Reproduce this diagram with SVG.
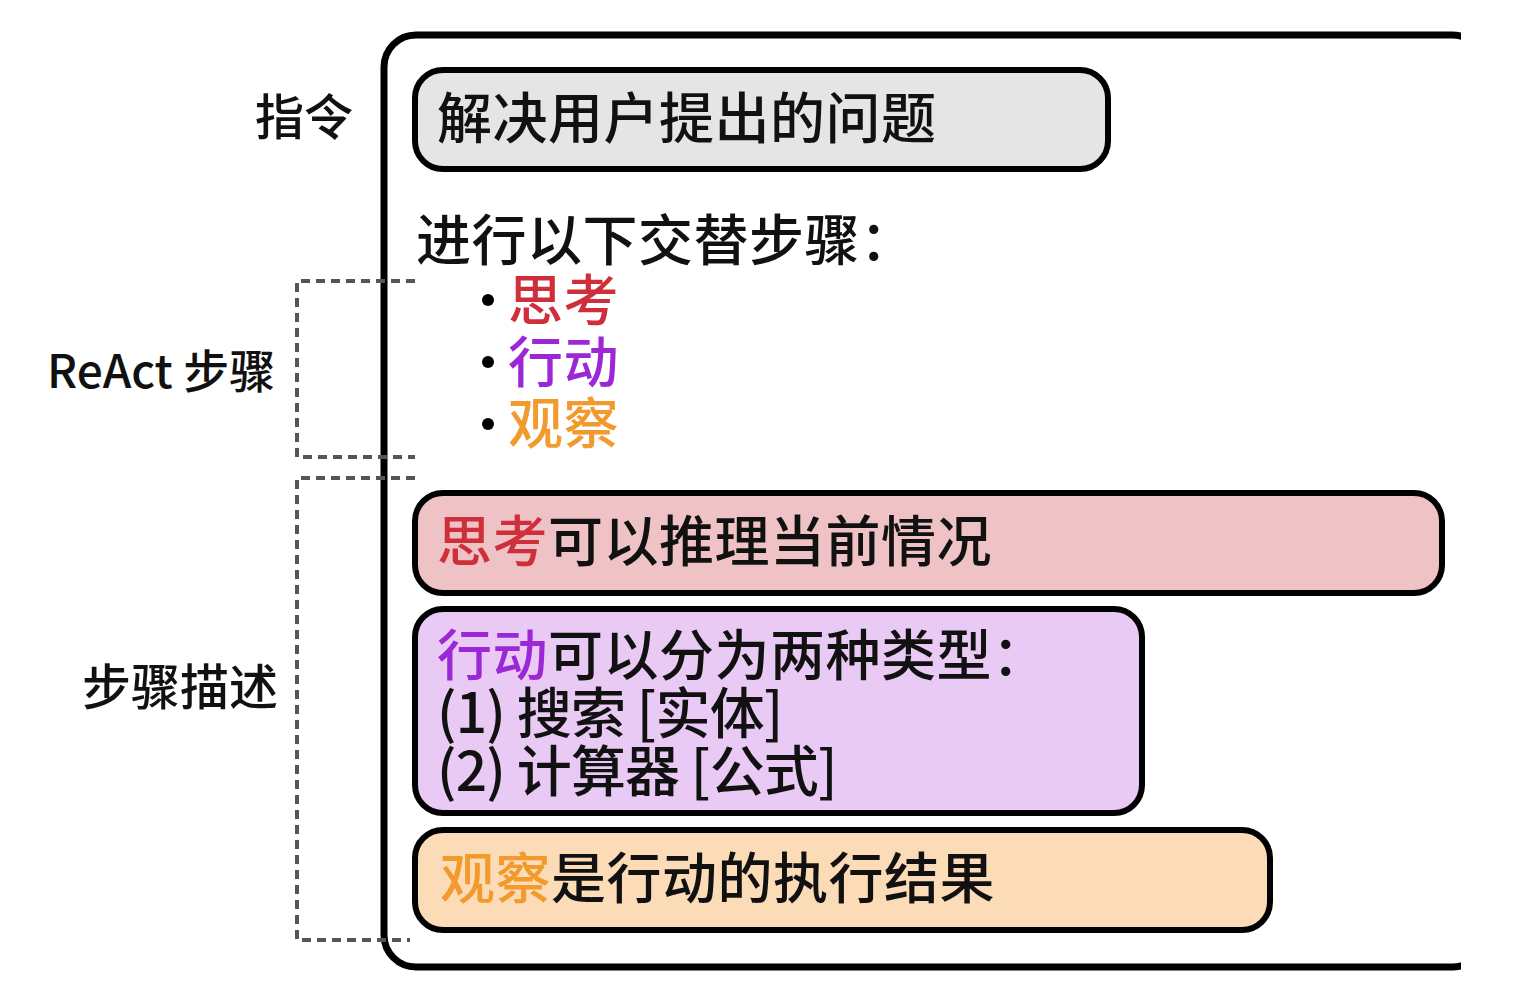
<svg xmlns="http://www.w3.org/2000/svg" width="1524" height="996" viewBox="0 0 1524 996">
<style>
text{font-family:"Noto Sans CJK SC","Noto Sans",sans-serif;fill:#111;font-weight:500;}
.m{font-size:55px;letter-spacing:0.5px;}
.t{letter-spacing:-0.8px;}
.l{font-size:49px;}
.box{stroke:#000;stroke-width:6;}
.dash{fill:none;stroke:#555;stroke-width:4;stroke-dasharray:9 6;}
.red{fill:#cf2f3a;}
.pur{fill:#9b27d6;}
.org{fill:#f29a2e;}
</style>
<defs><clipPath id="c"><rect x="0" y="0" width="1461" height="996"/></clipPath></defs>
<rect width="1524" height="996" fill="#fff"/>
<g id="frame" clip-path="url(#c)">
<rect x="384" y="35" width="1100" height="932" rx="32" fill="none" stroke="#000" stroke-width="7"/>
</g>
<g id="connectors">
<polyline class="dash" points="415,281 297,281 297,457 415,457"/>
<polyline class="dash" points="415,478 297,478 297,940 410,940"/>
</g>
<g id="labels">
<text class="l" x="255" y="135">指令</text>
<text class="l" x="47" y="388" style="font-size:46px">ReAct 步骤</text>
<text class="l" x="82" y="705">步骤描述</text>
</g>
<g id="instruction">
<rect class="box" x="415" y="70" width="693" height="99" rx="28" fill="#e5e5e5"/>
<text class="m" x="437" y="138">解决用户提出的问题</text>
</g>
<g id="steps">
<text class="m" x="416" y="260">进行以下交替步骤：</text>
<circle cx="488" cy="300" r="6" fill="#000"/>
<circle cx="488" cy="362" r="6" fill="#000"/>
<circle cx="488" cy="424" r="6" fill="#000"/>
<text class="m red" x="508" y="320">思考</text>
<text class="m pur" x="508" y="382">行动</text>
<text class="m org" x="508" y="443">观察</text>
</g>
<g id="think">
<rect class="box" x="415" y="493" width="1027" height="100" rx="28" fill="#efc3c6"/>
<text class="m" x="437" y="561"><tspan class="red">思考</tspan>可以推理当前情况</text>
</g>
<g id="act">
<rect class="box" x="415" y="609" width="727" height="204" rx="28" fill="#e8caf4"/>
<text class="m" x="437" y="675"><tspan class="pur">行动</tspan>可以分为两种类型：</text>
<text class="m t" x="437" y="733">(1) 搜索 [实体]</text>
<text class="m t" x="437" y="791">(2) 计算器 [公式]</text>
</g>
<g id="observe">
<rect class="box" x="415" y="830" width="855" height="100" rx="28" fill="#fbdcb7"/>
<text class="m" x="440" y="898"><tspan class="org">观察</tspan>是行动的执行结果</text>
</g>
</svg>
